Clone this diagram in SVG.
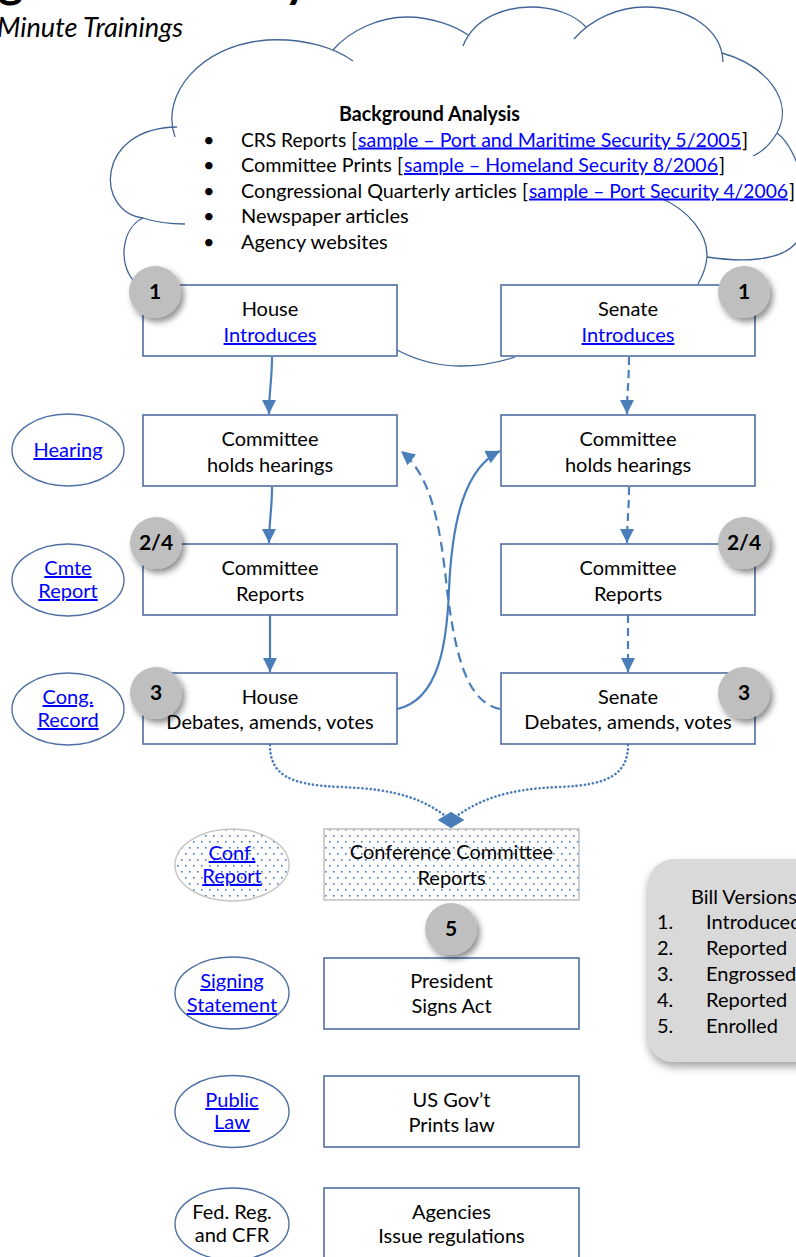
<svg xmlns="http://www.w3.org/2000/svg" width="796" height="1257" viewBox="0 0 796 1257">
<style>
.t{font-family:Lato,"Liberation Sans",sans-serif;font-size:20px;fill:#000}
.c{text-anchor:middle}
.b{font-weight:bold}
.lnk{fill:#0000ff;text-decoration:underline}
.box{fill:#fff;stroke:#4e6fa3;stroke-width:1.6}
.ell{fill:#fff;stroke:#4e6fa3;stroke-width:1.4}
.dotbox{fill:url(#dots);stroke:#c4c4c4;stroke-width:1.6}
.cloud{fill:none;stroke:#3f6596;stroke-width:1.3}
.badge{fill:#bfbfbf;filter:url(#sh)}
.bt{font-family:Lato,"Liberation Sans",sans-serif;font-size:21px;font-weight:bold;text-anchor:middle;fill:#000}
.con{fill:none;stroke:#4a7ebb;stroke-width:2.2}
.dash{stroke-dasharray:8 5}
.dash2{stroke-dasharray:10 6}
.dot{stroke-dasharray:0.1 4;stroke-linecap:round;stroke-width:2.6}
</style>
<defs>
<filter id="sh" x="-30%" y="-30%" width="170%" height="170%">
<feDropShadow dx="3" dy="4" stdDeviation="3" flood-color="#000" flood-opacity="0.45"/>
</filter>
<filter id="sh2" x="-10%" y="-10%" width="130%" height="130%">
<feDropShadow dx="0" dy="5" stdDeviation="4" flood-color="#000" flood-opacity="0.35"/>
</filter>
<pattern id="dots" width="8" height="12" patternUnits="userSpaceOnUse">
<rect width="8" height="12" fill="#fff"/>
<rect x="1" y="1" width="1.6" height="1.6" fill="#4a7ebb"/>
<rect x="5" y="7" width="1.6" height="1.6" fill="#4a7ebb"/>
</pattern>
<marker id="arr" viewBox="0 0 10 10" refX="10" refY="5" markerWidth="14" markerHeight="14" markerUnits="userSpaceOnUse" orient="auto">
<path d="M0,0 L10,5 L0,10 Z" fill="#4a7ebb"/>
</marker>
<marker id="dia" viewBox="0 0 26 16" refX="13" refY="8" markerWidth="26" markerHeight="16" markerUnits="userSpaceOnUse" orient="0">
<path d="M0,8 L13,0 L26,8 L13,16 Z" fill="#4a7ebb"/>
</marker>
</defs>

<g id="title">
<text x="-2" y="-3" style="font-family:Lato,sans-serif;font-size:48px;font-weight:bold">g</text>
<text x="284" y="-3" style="font-family:Lato,sans-serif;font-size:48px;font-weight:bold">y</text>
<text x="-3" y="37" textLength="186" lengthAdjust="spacingAndGlyphs" style="font-family:Lato,sans-serif;font-size:27px;font-style:italic">Minute Trainings</text>
</g>

<g id="cloud">
<path class="cloud" d="M133,280 C118,262 122,228 143,218"/>
<path class="cloud" d="M185,224 C170,224 155,222 143,218 C95,212 95,128 177,127"/>
<path class="cloud" d="M175,137 C160,95 200,45 267,40 C305,38 335,48 353,61"/>
<path class="cloud" d="M333,50 C350,30 380,17 407,17 C432,17 455,26 468,35"/>
<path class="cloud" d="M463,46 C475,15 510,7 530,7 C555,7 575,15 586,27"/>
<path class="cloud" d="M574,39 C592,18 620,7 645,7 C690,7 722,30 723,62"/>
<path class="cloud" d="M722,53 C765,65 795,100 777,133 C770,145 762,152 753,156"/>
<path class="cloud" d="M777,133 C800,150 815,210 796,243 C780,262 740,262 707,257"/>
<path class="cloud" d="M658,197 C690,210 708,235 707,257 C706,268 702,277 698,284"/>
<path class="cloud" d="M397,350 C420,362 440,366 460,366 C480,366 500,362 515,357"/>
<text class="t b" x="339" y="121" textLength="181" lengthAdjust="spacingAndGlyphs">Background Analysis</text>
<text class="t" x="203" y="146.5">•</text>
<text class="t" x="203" y="172">•</text>
<text class="t" x="203" y="197.5">•</text>
<text class="t" x="203" y="223">•</text>
<text class="t" x="203" y="248.5">•</text>
<text class="t" x="241" y="146.5" textLength="116" lengthAdjust="spacingAndGlyphs">CRS Reports [</text>
<text class="t lnk" x="358" y="146.5" textLength="383" lengthAdjust="spacingAndGlyphs">sample – Port and Maritime Security 5/2005</text>
<text class="t" x="742" y="146.5">]</text>
<text class="t" x="241" y="172" textLength="162" lengthAdjust="spacingAndGlyphs">Committee Prints [</text>
<text class="t lnk" x="404" y="172" textLength="314" lengthAdjust="spacingAndGlyphs">sample – Homeland Security 8/2006</text>
<text class="t" x="719" y="172">]</text>
<text class="t" x="241" y="197.5" textLength="287" lengthAdjust="spacingAndGlyphs">Congressional Quarterly articles [</text>
<text class="t lnk" x="529" y="197.5" textLength="259" lengthAdjust="spacingAndGlyphs">sample – Port Security 4/2006</text>
<text class="t" x="789" y="197.5">]</text>
<text class="t" x="241" y="223">Newspaper articles</text>
<text class="t" x="241" y="248.5">Agency websites</text>
</g>

<g id="connectors">
<path class="con" d="M272,357 C272,380 269,392 269,414" marker-end="url(#arr)"/>
<path class="con" d="M272,487 C272,510 269,522 269,543" marker-end="url(#arr)"/>
<path class="con" d="M270,615 L270,672" marker-end="url(#arr)"/>
<path class="con dash" d="M629,357 C629,380 627,392 627,414" marker-end="url(#arr)"/>
<path class="con dash" d="M629,487 C629,510 627,522 627,543" marker-end="url(#arr)"/>
<path class="con dash" d="M628,615 L628,672" marker-end="url(#arr)"/>
<path class="con" d="M397,709 C440,700 447,640 449,590 C452,520 465,468 500,451" marker-end="url(#arr)"/>
<path class="con dash2" d="M500,709 C465,702 455,650 447,590 C440,520 430,475 401,451" marker-end="url(#arr)"/>
<path class="con dot" d="M270,745 C270,775 290,785 340,787 C400,789 425,800 451,820" marker-end="url(#dia)"/>
<path class="con dot" d="M628,745 C628,775 607,785 560,787 C505,789 478,800 451,820" marker-end="url(#dia)"/>
</g>

<g id="house-intro">
<rect class="box" x="143" y="285" width="254" height="71"/>
<text class="t c" x="270" y="316">House</text>
<text class="t c" x="270" y="342"><tspan class="lnk">Introduces</tspan></text>
</g>
<g id="senate-intro">
<rect class="box" x="501" y="285" width="254" height="71"/>
<text class="t c" x="628" y="316">Senate</text>
<text class="t c" x="628" y="342"><tspan class="lnk">Introduces</tspan></text>
</g>
<g id="house-hearings">
<rect class="box" x="143" y="415" width="254" height="71"/>
<text class="t c" x="270" y="446">Committee</text>
<text class="t c" x="270" y="472">holds hearings</text>
</g>
<g id="senate-hearings">
<rect class="box" x="501" y="415" width="254" height="71"/>
<text class="t c" x="628" y="446">Committee</text>
<text class="t c" x="628" y="472">holds hearings</text>
</g>
<g id="house-reports">
<rect class="box" x="143" y="544" width="254" height="71"/>
<text class="t c" x="270" y="575">Committee</text>
<text class="t c" x="270" y="601">Reports</text>
</g>
<g id="senate-reports">
<rect class="box" x="501" y="544" width="254" height="71"/>
<text class="t c" x="628" y="575">Committee</text>
<text class="t c" x="628" y="601">Reports</text>
</g>
<g id="house-debates">
<rect class="box" x="143" y="673" width="254" height="71"/>
<text class="t c" x="270" y="704">House</text>
<text class="t c" x="270" y="729">Debates, amends, votes</text>
</g>
<g id="senate-debates">
<rect class="box" x="501" y="673" width="254" height="71"/>
<text class="t c" x="628" y="704">Senate</text>
<text class="t c" x="628" y="729">Debates, amends, votes</text>
</g>
<g id="conference">
<rect class="dotbox" x="324" y="829" width="255" height="71"/>
<text class="t c" x="451.5" y="859">Conference Committee</text>
<text class="t c" x="451.5" y="885">Reports</text>
</g>
<g id="president">
<rect class="box" x="324" y="958" width="255" height="71"/>
<text class="t c" x="451.5" y="988">President</text>
<text class="t c" x="451.5" y="1013">Signs Act</text>
</g>
<g id="govt-prints">
<rect class="box" x="324" y="1076" width="255" height="71"/>
<text class="t c" x="451.5" y="1107">US Gov’t</text>
<text class="t c" x="451.5" y="1132">Prints law</text>
</g>
<g id="agencies">
<rect class="box" x="324" y="1188" width="255" height="71"/>
<text class="t c" x="451.5" y="1219">Agencies</text>
<text class="t c" x="451.5" y="1243">Issue regulations</text>
</g>

<g id="hearing">
<ellipse class="ell" cx="68" cy="450" rx="56" ry="36"/>
<text class="t c" x="68" y="457"><tspan class="lnk">Hearing</tspan></text>
</g>
<g id="cmte-report">
<ellipse class="ell" cx="68" cy="580" rx="56" ry="36"/>
<text class="t c" x="68" y="575"><tspan class="lnk">Cmte</tspan></text>
<text class="t c" x="68" y="598"><tspan class="lnk">Report</tspan></text>
</g>
<g id="cong-record">
<ellipse class="ell" cx="68" cy="709" rx="56" ry="36"/>
<text class="t c" x="68" y="704"><tspan class="lnk">Cong.</tspan></text>
<text class="t c" x="68" y="727"><tspan class="lnk">Record</tspan></text>
</g>
<g id="conf-report">
<ellipse cx="232" cy="865" rx="57" ry="36" fill="url(#dots)" stroke="#c4c4c4" stroke-width="1.4"/>
<text class="t c" x="232" y="860"><tspan class="lnk">Conf.</tspan></text>
<text class="t c" x="232" y="883"><tspan class="lnk">Report</tspan></text>
</g>
<g id="signing-statement">
<ellipse class="ell" cx="232" cy="993" rx="57" ry="36"/>
<text class="t c" x="232" y="988"><tspan class="lnk">Signing</tspan></text>
<text class="t c" x="232" y="1012"><tspan class="lnk">Statement</tspan></text>
</g>
<g id="public-law">
<ellipse class="ell" cx="232" cy="1111.5" rx="57" ry="36"/>
<text class="t c" x="232" y="1107"><tspan class="lnk">Public</tspan></text>
<text class="t c" x="232" y="1129"><tspan class="lnk">Law</tspan></text>
</g>
<g id="fed-reg">
<ellipse class="ell" cx="232" cy="1224" rx="57" ry="36"/>
<text class="t c" x="232" y="1219">Fed. Reg.</text>
<text class="t c" x="232" y="1242">and CFR</text>
</g>

<g id="badges">
<circle class="badge" cx="155" cy="292" r="26"/><text class="bt" x="155" y="299">1</text>
<circle class="badge" cx="744" cy="292" r="26"/><text class="bt" x="744" y="299">1</text>
<circle class="badge" cx="156" cy="543" r="26"/><text class="bt" x="156" y="550">2/4</text>
<circle class="badge" cx="744" cy="543" r="26"/><text class="bt" x="744" y="550">2/4</text>
<circle class="badge" cx="156" cy="693" r="26"/><text class="bt" x="156" y="700">3</text>
<circle class="badge" cx="744" cy="693" r="26"/><text class="bt" x="744" y="700">3</text>
<circle class="badge" cx="451" cy="929" r="26"/><text class="bt" x="451" y="936">5</text>
</g>

<g id="bill-versions">
<rect x="648" y="859" width="180" height="203" rx="26" fill="#d9d9d9" filter="url(#sh2)"/>
<text class="t" x="691" y="904">Bill Versions</text>
<text class="t" x="657" y="929">1.</text><text class="t" x="706" y="929">Introduced</text>
<text class="t" x="657" y="955">2.</text><text class="t" x="706" y="955">Reported</text>
<text class="t" x="657" y="981">3.</text><text class="t" x="706" y="981">Engrossed</text>
<text class="t" x="657" y="1007">4.</text><text class="t" x="706" y="1007">Reported</text>
<text class="t" x="657" y="1033">5.</text><text class="t" x="706" y="1033">Enrolled</text>
</g>
</svg>
